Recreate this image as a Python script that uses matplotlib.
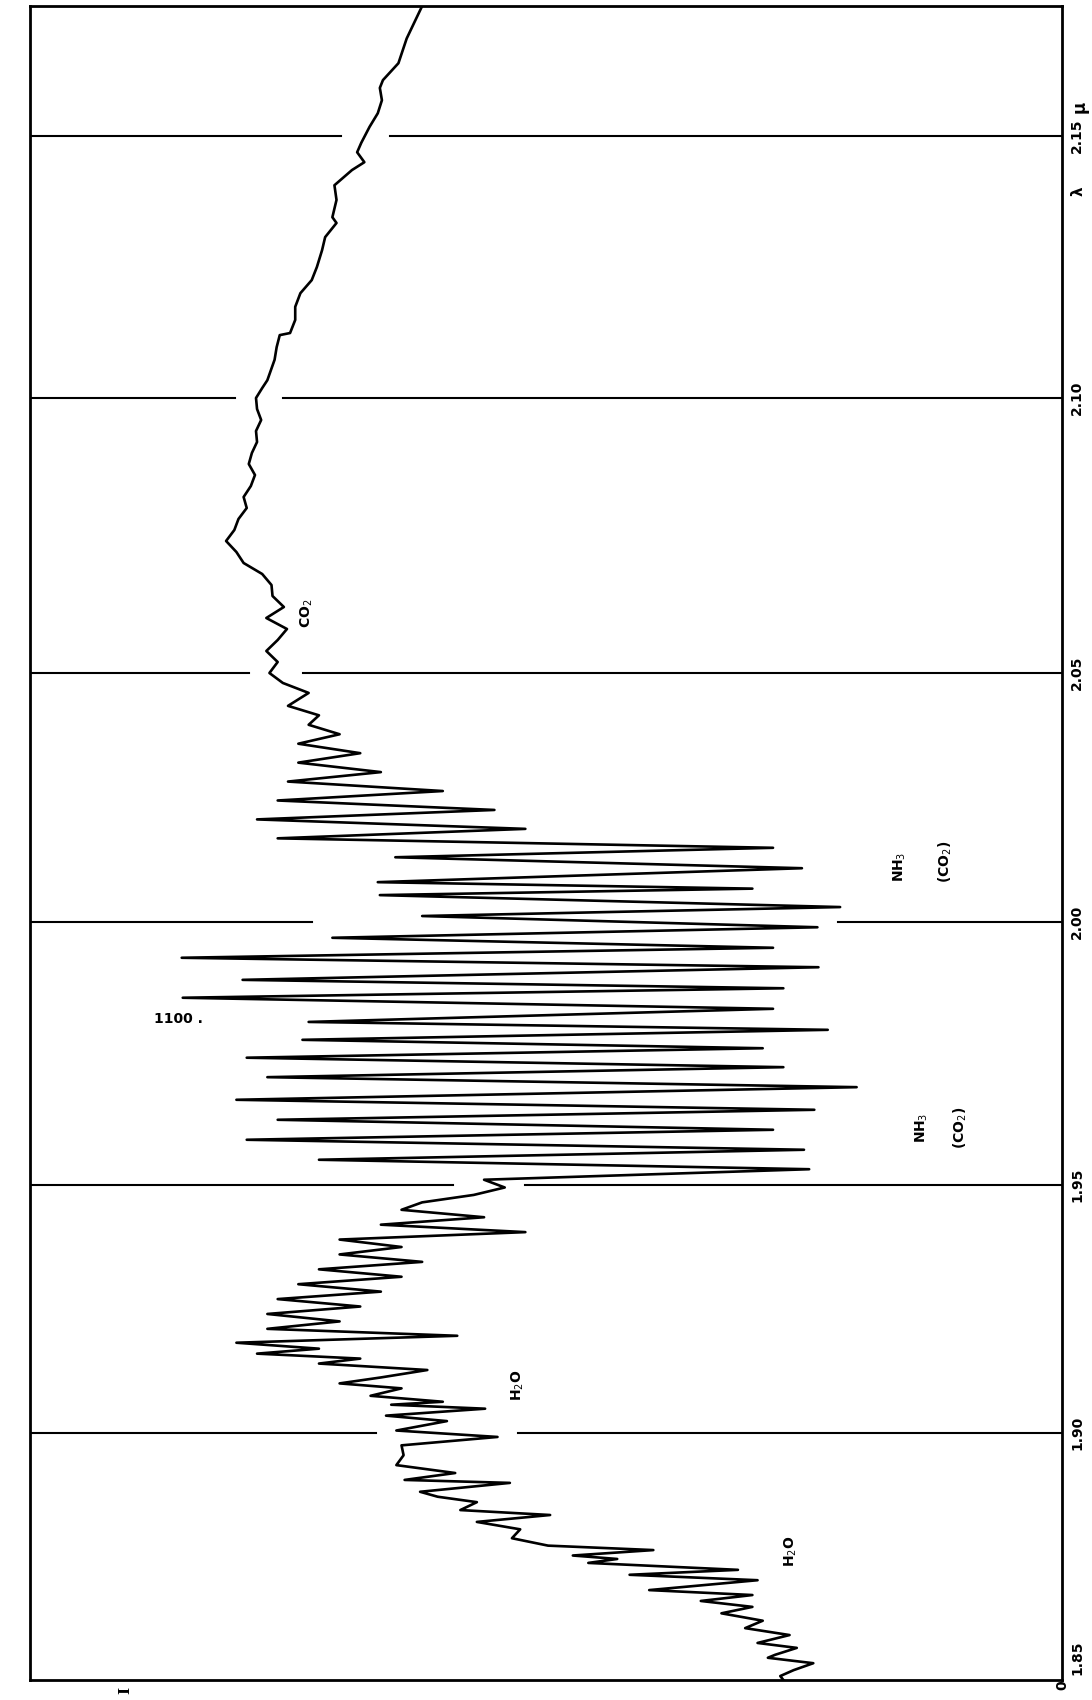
import numpy as np
import matplotlib
matplotlib.use('Agg')
import matplotlib.pyplot as plt

# wavelength calibration of the chart (micron -> chart position)
cal_wl = [1.85, 1.90, 1.95, 2.00, 2.05, 2.10, 2.15, 2.17]
cal_pos = [0, 247, 495, 758, 1007, 1282, 1544, 1674]

grid_wl = [1.90, 1.95, 2.00, 2.05, 2.10, 2.15]
tick_text = ['1.90', '1.95', '2.00', '2.05', '2.10', '2.15']

# --- spectrum (wavelength in micron, intensity in % of full scale) ---
wl_a = [1.8500, 1.8508, 1.8520, 1.8534, 1.8545, 1.8551, 1.8565, 1.8575, 1.8591, 1.8605,
        1.8620, 1.8635, 1.8648, 1.8660, 1.8672, 1.8682, 1.8702, 1.8713, 1.8723, 1.8737,
        1.8745, 1.8752, 1.8763, 1.8772, 1.8787, 1.8805, 1.8820, 1.8834, 1.8844, 1.8860,
        1.8871, 1.8881, 1.8899, 1.8905, 1.8919, 1.8935, 1.8955, 1.8975, 1.8992, 1.9005,
        1.9024, 1.9035, 1.9049, 1.9057]
in_a = [27.0, 27.3, 26.0, 24.1, 28.5, 27.8, 25.7, 29.5, 26.4, 30.7,
        29.0, 33.0, 30.0, 35.0, 30.0, 40.0, 29.5, 41.9, 31.4, 45.9,
        43.1, 47.4, 39.6, 49.8, 53.3, 52.5, 56.7, 49.6, 58.3, 56.7,
        60.5, 62.2, 53.5, 63.7, 58.8, 64.5, 63.8, 64.0, 54.7, 64.5,
        59.6, 65.5, 55.9, 65.0]

wl_b = [1.9063, 1.9075, 1.9090, 1.9100, 1.9112, 1.9127, 1.9140, 1.9150, 1.9160, 1.9170,
        1.9182, 1.9196, 1.9210, 1.9225, 1.9240, 1.9255, 1.9270, 1.9285, 1.9300, 1.9315,
        1.9330, 1.9345, 1.9360, 1.9375, 1.9390, 1.9405, 1.9420, 1.9435, 1.9450, 1.9465,
        1.9480, 1.9495, 1.9510]
in_b = [60, 67, 64, 70, 66, 61.5, 72, 68, 78, 72,
        80, 58.6, 77, 70, 77, 68, 76, 66, 74, 64,
        72, 62, 70, 64, 70, 52, 66, 56, 64, 62,
        57, 54, 56]

# NH3 band: maxima (to the left) and minima (to the right)
wl_hi = [1.9548, 1.9586, 1.9624, 1.9662, 1.9705, 1.9742, 1.9776, 1.9810, 1.9856, 1.9890,
         1.9932, 1.9970, 2.0012, 2.0054, 2.0080, 2.0130, 2.0168, 2.0206, 2.0244, 2.0282,
         2.0320, 2.0358, 2.0396, 2.0434]
in_hi = [72, 79, 76, 80, 77, 79, 73.6, 73.0, 85.2, 79.4,
         85.3, 70.7, 62.0, 66.1, 66.3, 64.6, 76, 78, 76, 75,
         74, 74, 73, 75]
wl_lo = [1.9530, 1.9567, 1.9605, 1.9643, 1.9686, 1.9724, 1.9760, 1.9795, 1.9835, 1.9874,
         1.9914, 1.9951, 1.9990, 2.0030, 2.0067, 2.0108, 2.0149, 2.0187, 2.0225, 2.0263,
         2.0301, 2.0339, 2.0377, 2.0415]
in_lo = [24.5, 25, 28, 24, 19.9, 27, 29, 22.7, 28, 27,
         23.6, 28, 23.7, 21.5, 30, 25.2, 28, 52, 55, 60,
         66, 68, 70, 72]

wl_d = [2.0460, 2.0480, 2.0500, 2.0520, 2.0540, 2.0560, 2.0580, 2.0600, 2.0620, 2.0640,
        2.0660, 2.0680, 2.0700, 2.0720, 2.0740, 2.0760, 2.0780, 2.0800, 2.0820, 2.0840,
        2.0860, 2.0880, 2.0900, 2.0920, 2.0940, 2.0960, 2.0980,
        2.1000, 2.1019, 2.1034, 2.1073, 2.1097, 2.1120, 2.1124, 2.1149, 2.1174, 2.1200,
        2.1225, 2.1250, 2.1282, 2.1307, 2.1334, 2.1345, 2.1378, 2.1406, 2.1435, 2.1450,
        2.1469, 2.1487, 2.1514, 2.1535, 2.1555, 2.1574, 2.1586, 2.1612, 2.1650, 2.1700]
in_d = [73.0, 75.5, 76.8, 76.0, 77.1, 76.0, 75.1, 77.1, 75.4, 76.5,
        76.6, 77.5, 79.3, 80.0, 81.0, 80.2, 79.8, 79.0, 79.3, 78.6,
        78.2, 78.8, 78.5, 78.0, 78.1, 77.6, 78.0,
        78.1, 77.5, 77.0, 76.3, 76.1, 75.8, 74.8, 74.3, 74.3, 73.8,
        72.7, 72.2, 71.7, 71.4, 70.3, 70.7, 70.3, 70.5, 68.8, 67.6,
        68.3, 67.9, 67.1, 66.3, 65.9, 66.1, 65.8, 64.3, 63.5, 62.0]

band = sorted(zip(wl_hi + wl_lo, in_hi + in_lo))
wl = np.array(wl_a + wl_b + [p[0] for p in band] + wl_d)
inten = np.array(in_a + in_b + [p[1] for p in band] + in_d)


def fwd(w):
    return np.interp(w, cal_wl, cal_pos)


def inv(p):
    return np.interp(p, cal_pos, cal_wl)


fig = plt.figure(figsize=(10.92, 17.0), dpi=100)
ax = fig.add_axes([30 / 1092, 20 / 1700, 1032 / 1092, 1674 / 1700])
ax.set_yscale('function', functions=(fwd, inv))
ax.set_xlim(100, 0)
ax.set_ylim(1.85, 2.17)

ax.plot(inten, wl, color='black', lw=1.9, solid_joinstyle='round')

# wavelength marks, broken where the trace crosses them
for t in grid_wl:
    near = np.abs(wl - t) < 0.003
    vals = np.append(inten[near], np.interp(t, wl, inten))
    lo, hi = vals.min() - 2.0, vals.max() + 2.0
    ax.plot([100, hi], [t, t], color='black', lw=1.5)
    ax.plot([lo, 0], [t, t], color='black', lw=1.5)

for s in ax.spines.values():
    s.set_linewidth(2.0)
ax.set_xticks([])
ax.set_yticks([])

lab = dict(rotation=90, fontsize=10, fontweight='bold', family='DejaVu Sans')
tr = ax.get_yaxis_transform()
for t, s in zip(grid_wl, tick_text):
    ax.text(1.008, t, s, transform=tr, ha='left', va='center', **lab)
ax.text(1.008, 1.851, '1.85', transform=tr, ha='left', va='bottom', **lab)
ax.text(1.0, 1.8485, '0', transform=tr, ha='center', va='top', **lab)
ax.text(1.008, 2.1535, 'μ', transform=tr, ha='left', va='bottom', fontsize=12,
        fontweight='bold', rotation=90)
ax.text(1.008, 2.1395, 'λ', transform=tr, ha='left', va='center', fontsize=11,
        fontweight='bold', rotation=90)
ax.text(0.092, -0.004, 'I', transform=ax.transAxes, ha='center', va='top', rotation=90,
        fontsize=11, fontweight='bold', family='DejaVu Serif')

# band labels
ax.text(73.2, 2.0609, 'CO$_2$', ha='center', va='center', **lab)
ax.text(15.7, 2.0110, 'NH$_3$', ha='center', va='center', **lab)
ax.text(11.3, 2.0120, '(CO$_2$)', ha='center', va='center', **lab)
ax.text(13.6, 1.9608, 'NH$_3$', ha='center', va='center', **lab)
ax.text(9.9, 1.9608, '(CO$_2$)', ha='center', va='center', **lab)
ax.text(85.6, 1.9816, '1100 .', ha='center', va='center', fontsize=10, fontweight='bold')
ax.text(52.7, 1.9097, 'H$_2$O', ha='center', va='center', **lab)
ax.text(26.3, 1.8761, 'H$_2$O', ha='center', va='center', **lab)

fig.savefig('out.png', dpi=100)
